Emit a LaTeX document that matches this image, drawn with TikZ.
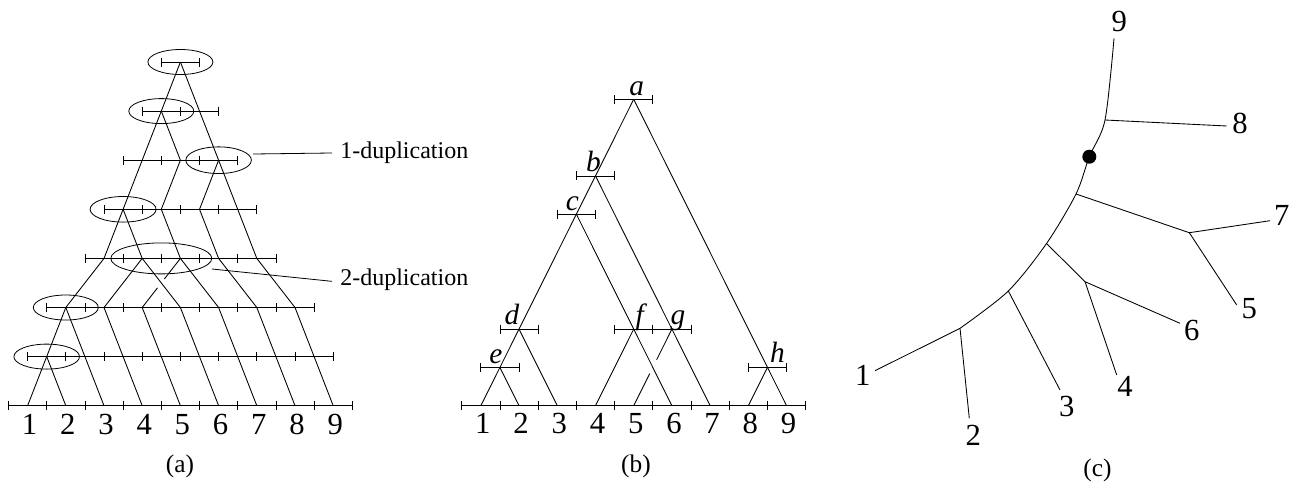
\documentclass[tikz,border=0pt]{standalone}
\usepackage{fontspec}
\setmainfont{Liberation Serif}
\usetikzlibrary{calc,shapes.geometric}
\newcommand{\tbar}[1]{%
  \draw[lvl] ($(#1)+(-19.11,0)$) -- ($(#1)+(19.11,0)$)
    ($(#1)+(-19.11,-4.5)$) -- ($(#1)+(-19.11,4.5)$)
    ($(#1)+(19.11,-4.5)$) -- ($(#1)+(19.11,4.5)$);}
\begin{document}
\begin{tikzpicture}[x=0.75pt,y=-0.75pt,
  edge/.style={line width=0.65pt},
  lvl/.style={line width=0.6pt},
  dupe/.style={draw, ellipse, inner sep=0pt, line width=0.6pt},
  leaf/.style={font=\fontsize{23}{26}\selectfont, inner sep=0pt},
  captxt/.style={font=\fontsize{19}{22}\selectfont, inner sep=0pt},
  lbl/.style={font=\fontsize{18}{22}\selectfont, inner sep=0pt, anchor=west},
  nl/.style={font=\fontsize{22}{25}\selectfont\itshape, inner sep=0pt, anchor=base},
]
\useasboundingbox (0,0) rectangle (1301,489);

% ================= panel (a) =================
\foreach \J in {0,...,7}{\foreach \T in {0,...,18}{
  \coordinate (a-\J-\T) at ({8.5+19.1*\T},{62+49.1*\J});}}

\foreach \J/\a/\b/\w in {0/8/10/0.6,1/7/11/0.6,2/6/12/0.6,3/5/13/1.1,4/4/14/0.6,5/2/16/1.1,6/1/17/0.6,7/0/18/0.6}{
  \draw[line width=\w pt] (a-\J-\a) -- (a-\J-\b);
  \pgfmathtruncatemacro{\nxt}{\a+2}
  \foreach \T in {\a,\nxt,...,\b}{
    \draw[lvl] ($(a-\J-\T)+(0,-4.5)$) -- ($(a-\J-\T)+(0,4.5)$);}
}

\draw[edge] (a-0-9) -- (a-1-8) -- (a-2-7) -- (a-3-6) -- (a-4-5) -- (a-5-3) -- (a-6-2) -- (a-7-1);
\draw[edge] (a-0-9) -- (a-1-10) -- (a-2-11) -- (a-3-12) -- (a-4-13) -- (a-5-15) -- (a-6-16) -- (a-7-17);
\draw[edge] (a-1-8) -- (a-2-9) -- (a-3-8) -- (a-4-9) -- (a-5-11) -- (a-6-12) -- (a-7-13);
\draw[edge] (a-2-11) -- (a-3-10) -- (a-4-11) -- (a-5-13) -- (a-6-14) -- (a-7-15);
\draw[edge] (a-3-6) -- (a-4-7) -- (a-5-5) -- (a-6-6) -- (a-7-7);
\draw[edge] (a-4-7) -- (a-5-9) -- (a-6-10) -- (a-7-11);
\draw[edge] (a-4-9) -- ($(a-4-9)!0.42!(a-5-7)$) ($(a-4-9)!0.6!(a-5-7)$) -- (a-5-7) -- (a-6-8) -- (a-7-9);
\draw[edge] (a-5-3) -- (a-6-4) -- (a-7-5);
\draw[edge] (a-6-2) -- (a-7-3);

\node[dupe, minimum width=48.75pt, minimum height=18.75pt] (e0) at (a-0-9) {};
\node[dupe, minimum width=48.75pt, minimum height=18.75pt] (e1) at (a-1-8) {};
\node[dupe, minimum width=49.2pt, minimum height=20pt] (e2) at (a-2-11) {};
\node[dupe, minimum width=49.5pt, minimum height=19.2pt] (e3) at (a-3-6) {};
\node[dupe, minimum width=75.75pt, minimum height=23.25pt] (e4) at (a-4-8) {};
\node[dupe, minimum width=48.75pt, minimum height=18.75pt] (e5) at (a-5-3) {};
\node[dupe, minimum width=49.2pt, minimum height=18.75pt] (e6) at (a-6-2) {};

\coordinate (d1s) at (253,154);
\coordinate (d2s) at (212,269);
\node[lbl] (d1) at (340,153) {1-duplication};
\node[lbl] (d2) at (340,280) {2-duplication};
\draw[lvl] (d1s) -- ([xshift=-6pt]d1.west);
\draw[lvl] (d2s) -- ([xshift=-6pt,yshift=-1pt]d2.west);

\foreach \i in {1,...,9}{
  \pgfmathtruncatemacro{\T}{2*\i-1}
  \node[leaf] (al\i) at ($(a-7-\T)+(2,19)$) {\i};}
\node[captxt] (capa) at (180,466) {(a)};

% ================= panel (b) =================
\foreach \t in {0,...,9}{\coordinate (bx\t) at ({461.7+38.22*\t},405.7);}
\draw[lvl] (bx0) -- (bx9);
\foreach \t in {0,...,9}{\draw[lvl] ($(bx\t)+(0,-4.5)$) -- ($(bx\t)+(0,4.5)$);}
\foreach \i in {1,...,9}{
  \coordinate (bl\i) at ({461.7+38.22*(\i-0.5)},405.7);
  \node[leaf] (blab\i) at ($(bl\i)+(2,18)$) {\i};}

\coordinate (na) at ({461.7+38.22*4.5},{405.7-38.3*8});
\coordinate (nb) at ({461.7+38.22*3.5},{405.7-38.3*6});
\coordinate (nc) at ({461.7+38.22*3},{405.7-38.3*5});
\coordinate (nd) at ({461.7+38.22*1.5},{405.7-38.3*2});
\coordinate (ne) at ({461.7+38.22*1},{405.7-38.3*1});
\coordinate (nf) at ({461.7+38.22*4.5},{405.7-38.3*2});
\coordinate (ng) at ({461.7+38.22*5.5},{405.7-38.3*2});
\coordinate (nh) at ({461.7+38.22*8},{405.7-38.3*1});

\draw[edge] (na) -- (nb) -- (nc) -- (nd) -- (ne) -- (bl1);
\draw[edge] (na) -- (nh) -- (bl9);
\draw[edge] (nb) -- (ng) -- (bl7);
\draw[edge] (nc) -- (nf) -- (bl6);
\draw[edge] (nd) -- (bl3);
\draw[edge] (ne) -- (bl2);
\draw[edge] (nf) -- (bl4);
\draw[edge] (ng) -- ($(ng)!0.4!(bl5)$) ($(ng)!0.58!(bl5)$) -- (bl5);
\draw[edge] (nh) -- (bl8);

\foreach \n in {na,nb,nc,nd,ne,nf,ng,nh}{\tbar{\n}}

\node[nl] (la) at ($(na)+(3,-4)$) {a};
\node[nl] (lb) at ($(nb)+(-2,-4)$) {b};
\node[nl] (lc) at ($(nc)+(-4,-4)$) {c};
\node[nl] (ld) at ($(nd)+(-7,-5)$) {d};
\node[nl] (le) at ($(ne)+(-4,-4)$) {e};
\node[nl] (lf) at ($(nf)+(6,-5)$) {f};
\node[nl] (lg) at ($(ng)+(6,-5)$) {g};
\node[nl] (lh) at ($(nh)+(10,-5)$) {h};
\node[captxt] (capb) at (636,466) {(b)};

% ================= panel (c) =================
\coordinate (cG) at (960,328.3);
\coordinate (cF) at (1008.3,291);
\coordinate (cD) at (1046.5,243.5);
\coordinate (cB) at (1076,194);
\coordinate (cA) at (1105,120);
\coordinate (cC) at (1189.3,232.7);
\coordinate (cE) at (1085,281.7);
\coordinate (t9) at (1114,38.3);
\coordinate (t8) at (1226.7,126);
\coordinate (t7) at (1270,220.7);
\coordinate (t5) at (1236.7,305);
\coordinate (t6) at (1180,323.3);
\coordinate (t4) at (1116.7,375);
\coordinate (t3) at (1060,390);
\coordinate (t2) at (969.3,418.3);
\coordinate (t1) at (875,370.7);
\node[circle, fill=black, inner sep=0pt, minimum size=10.5pt] (root) at (1089.3,156.7) {};

\draw[edge] plot[smooth, tension=0.5] coordinates {(cG) (cF) (cD) (cB) (root.center) (cA) (t9)};
\draw[edge] (cA) -- (t8);
\draw[edge] (cB) -- (cC) -- (t7);
\draw[edge] (cC) -- (t5);
\draw[edge] (cD) -- (cE) -- (t6);
\draw[edge] (cE) -- (t4);
\draw[edge] (cF) -- (t3);
\draw[edge] (cG) -- (t1);
\draw[edge] (cG) -- (t2);

\node[leaf] (c9) at (1119.3,21.7) {9};
\node[leaf] (c8) at (1240,123.3) {8};
\node[leaf] (c7) at (1281.7,215) {7};
\node[leaf] (c5) at (1249.3,308.3) {5};
\node[leaf] (c6) at (1191.7,330) {6};
\node[leaf] (c4) at (1125,386.7) {4};
\node[leaf] (c3) at (1066.7,406.7) {3};
\node[leaf] (c2) at (973.3,435) {2};
\node[leaf] (c1) at (862.7,375) {1};
\node[captxt] (capc) at (1097.5,470) {(c)};
\end{tikzpicture}
\end{document}
